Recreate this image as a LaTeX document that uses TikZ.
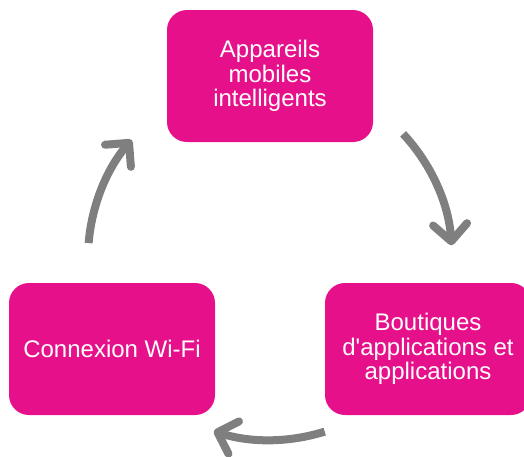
\documentclass[tikz,border=0pt]{standalone}
\usepackage{fontspec}
\setmainfont{Liberation Sans}[Ligatures=TeXOff]
\usetikzlibrary{arrows.meta,calc}
\definecolor{boxpink}{HTML}{E6108A}
\definecolor{arrowgray}{HTML}{7F7F7F}
\tikzset{
  cyclebox/.style={rounded corners=20pt, fill=boxpink, draw=none, minimum width=206pt, minimum height=132pt, text=white, align=center, inner sep=0pt, font=\fontsize{24}{24.5}\selectfont},
  cyclearrow/.style={draw=arrowgray, line width=8pt, -{Straight Barb[length=17pt,width=34pt,round]}}
}
\begin{document}
\begin{tikzpicture}[x=1pt,y=-1pt]
\useasboundingbox (0,0) rectangle (524,456);
\node[cyclebox] (top) at (270,76) {Appareils\\mobiles\\intelligents};
\node[cyclebox] (left) at (112,349) {Connexion Wi-Fi};
\node[cyclebox] (right) at (428,349) {Boutiques\\d'applications et\\applications};
\coordinate (c) at (270,258);
\coordinate (a1s) at ($(c)+(43:182pt)$);
\coordinate (a2s) at ($(c)+(-72.5:182pt)$);
\coordinate (a3s) at ($(c)+(175.3:182pt)$);
\draw[cyclearrow] (a1s) arc[start angle=43, end angle=4, radius=182pt];
\draw[cyclearrow] (a2s) arc[start angle=-72.5, end angle=-108, radius=182pt];
\draw[cyclearrow] (a3s) arc[start angle=175.3, end angle=139.5, radius=182pt];
\end{tikzpicture}
\end{document}
